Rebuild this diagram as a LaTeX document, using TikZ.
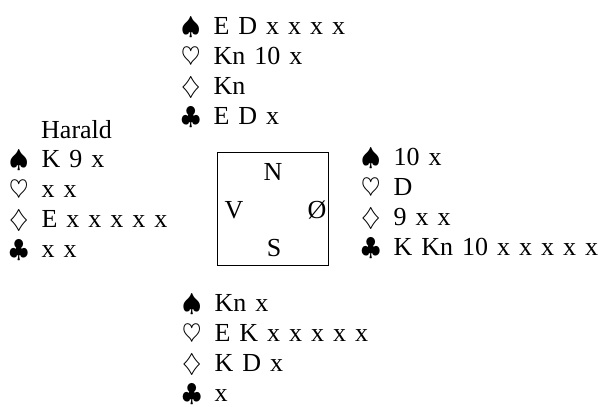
\documentclass[tikz,border=0pt]{standalone}
\usepackage{amssymb}
\usepackage{fontspec}
\setmainfont{Liberation Serif}
\usetikzlibrary{positioning}

% one hand: the four suits, symbol column and card column
\newcommand{\hand}[4]{%
  \spaceskip=9pt\relax
  \begin{tabular}{@{}c@{\hspace{13pt}}l@{}}
    $\spadesuit$   & #1\\
    $\heartsuit$   & #2\\
    $\diamondsuit$ & #3\\
    $\clubsuit$    & #4
  \end{tabular}}

\begin{document}
\begin{tikzpicture}[x=1pt, y=-1pt,
    cardfont/.style={font=\fontsize{26}{30}\selectfont},
    handbox/.style={cardfont, inner sep=0pt, anchor=west},
    seat/.style={cardfont, inner sep=0pt}]
  \useasboundingbox (0,0) rectangle (598,407);

  %% ─── Hands ────────────────────────────────────────────────────────────────
  \node[handbox] (north) at (181, 73) {\hand{E D x x x x}{Kn 10 x}{Kn}{E D x}};
  \node[handbox] (west)  at (9, 206)  {\hand{K 9 x}{x x}{E x x x x x}{x x}};
  \node[handbox] (east)  at (361, 204) {\hand{10 x}{D}{9 x x}{K Kn 10 x x x x x}};
  \node[handbox] (south) at (182, 350) {\hand{Kn x}{E K x x x x x}{K D x}{x}};

  \node[seat, anchor=west] (harald) at (41, 130) {Harald};

  %% ─── Table ────────────────────────────────────────────────────────────────
  \node[draw, line width=0.8pt, minimum width=111, minimum height=113]
    (table) at (272.5, 208.5) {};
  \node[seat] (n) at (273, 172) {N};
  \node[seat] (v) at (234, 210) {V};
  \node[seat] (o) at (317, 210) {Ø};
  \node[seat] (s) at (274, 248) {S};
\end{tikzpicture}
\end{document}
